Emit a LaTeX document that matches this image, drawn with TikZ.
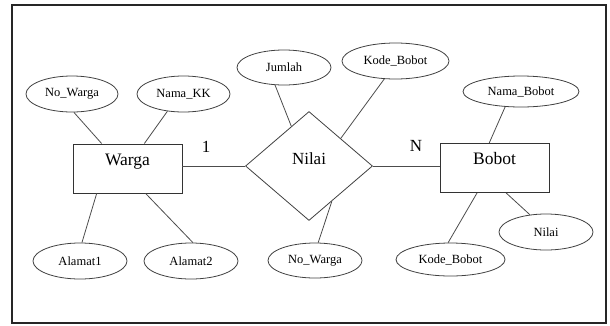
\documentclass[tikz,border=0pt]{standalone}
\usepackage{fontspec}
\setmainfont{Liberation Serif}
\usetikzlibrary{shapes.geometric,calc}
\begin{document}
\begin{tikzpicture}[x=1pt,y=-1pt,
 attr/.style={ellipse,draw=black!75,line width=0.8pt,inner sep=0pt,font=\fontsize{12.5}{14}\selectfont},
 entity/.style={rectangle,draw=black!80,line width=0.9pt,minimum width=109pt,minimum height=49pt,inner sep=0pt,font=\fontsize{17.5}{20}\selectfont,text height=12pt,text depth=19pt},
 rel/.style={diamond,draw=black!75,line width=0.8pt,minimum width=127pt,minimum height=109pt,inner sep=0pt,font=\fontsize{17}{20}\selectfont,text height=12pt,text depth=16pt},
 conn/.style={draw=black!70,line width=0.8pt},
 card/.style={font=\fontsize{17}{20}\selectfont,inner sep=0pt}]
\useasboundingbox (0,0) rectangle (610,325);
\draw[line width=1.3pt,draw=black!85] (12,5) rectangle (606,323);

\node[entity] (warga) at (127.5,168.5) {Warga};
\node[entity] (bobot) at (494.5,168) {Bobot};
\node[rel] (nilai) at (309,166) {Nilai};

\node[attr,minimum width=92pt,minimum height=36pt] (nw1) at (72,94) {No\_Warga};
\node[attr,minimum width=93pt,minimum height=36pt] (nkk) at (183.5,94) {Nama\_KK};
\node[attr,minimum width=94pt,minimum height=35pt] (jml) at (284,67.5) {Jumlah};
\node[attr,minimum width=107pt,minimum height=36pt] (kb1) at (395.5,61) {Kode\_Bobot};
\node[attr,minimum width=116pt,minimum height=31pt] (nb) at (521,91.5) {Nama\_Bobot};
\node[attr,minimum width=94pt,minimum height=36pt] (al1) at (80,261) {Alamat1};
\node[attr,minimum width=94pt,minimum height=36pt] (al2) at (191,261) {Alamat2};
\node[attr,minimum width=94pt,minimum height=35pt] (nw2) at (315,260.5) {No\_Warga};
\node[attr,minimum width=109pt,minimum height=33pt] (kb2) at (450.5,259.5) {Kode\_Bobot};
\node[attr,minimum width=94pt,minimum height=36pt] (nil) at (546,232) {Nilai};

\draw[conn] (nw1.-84) -- (warga.136);
\draw[conn] (nkk.-133) -- (warga.56);
\draw[conn] (warga.-141) -- (al1.84);
\draw[conn] (warga.-54.5) -- (al2.84);
\draw[conn] (jml.-117) -- (nilai.114);
\draw[conn] (kb1.-122) -- (nilai.41);
\draw[conn] (nilai.-57) -- (nw2.80);
\draw[conn] (nb.-136) -- (bobot.102);
\draw[conn] (bobot.-125) -- (kb2.98);
\draw[conn] (bobot.-65) -- (nil.133);
\draw[conn] (warga.east |- nilai.west) -- (nilai.west);
\draw[conn] (nilai.east) -- (nilai.east -| bobot.west);

\node[card] (c1) at (206,147) {1};
\node[card] (cn) at (416,146) {N};
\end{tikzpicture}
\end{document}
